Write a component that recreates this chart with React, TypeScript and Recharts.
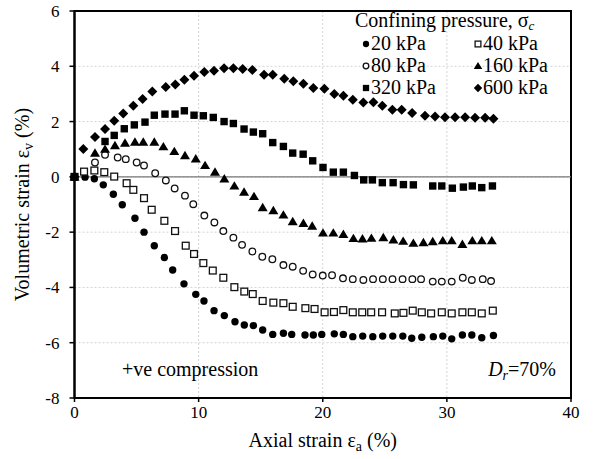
import {
  CartesianGrid,
  Legend,
  ReferenceArea,
  ReferenceLine,
  Scatter,
  ScatterChart,
  XAxis,
  YAxis,
} from 'recharts'

const SERIF = '"Liberation Serif", "Times New Roman", serif'

// [axial strain %, volumetric strain %] readings per confining pressure
const P20: [number, number][] = [
  [0, 0], [0.85, -0.01], [1.6, -0.07], [2.32, -0.29], [3.13, -0.63], [3.85, -1.01], [4.87, -1.5],
  [5.6, -2.0], [6.43, -2.49], [7.24, -2.92], [7.91, -3.37], [8.82, -3.87], [9.77, -4.25],
  [10.43, -4.49], [11.24, -4.84], [12.07, -5.02], [12.93, -5.24], [13.68, -5.36], [14.41, -5.38],
  [15.16, -5.54], [15.97, -5.7], [16.83, -5.66], [17.5, -5.7], [18.57, -5.72], [19.24, -5.72],
  [19.92, -5.7], [20.93, -5.68], [21.66, -5.7], [22.42, -5.78], [23.22, -5.76], [24.03, -5.78],
  [24.83, -5.76], [25.64, -5.76], [26.45, -5.76], [27.17, -5.84], [27.98, -5.8], [28.91, -5.78],
  [29.67, -5.76], [30.39, -5.86], [31.25, -5.72], [32.01, -5.72], [32.81, -5.82], [33.75, -5.74],
]

const P40: [number, number][] = [
  [0, 0], [0.77, 0.19], [1.6, 0.23], [2.4, 0.17], [3.2, 0.01], [4.2, -0.23], [4.74, -0.47],
  [5.6, -0.77], [6.22, -1.19], [7.24, -1.59], [8.1, -1.96], [8.96, -2.49], [9.63, -2.79],
  [10.38, -3.12], [11.14, -3.39], [11.99, -3.65], [12.88, -3.99], [13.68, -4.15], [14.36, -4.24],
  [15.16, -4.49], [16.02, -4.55], [16.83, -4.57], [17.58, -4.7], [18.6, -4.75], [19.34, -4.78],
  [20.15, -4.9], [20.9, -4.89], [21.66, -4.82], [22.42, -4.9], [23.18, -4.9], [23.9, -4.9],
  [24.78, -4.9], [25.8, -4.94], [26.5, -4.92], [27.25, -4.84], [27.98, -4.9], [28.73, -4.94],
  [29.59, -4.9], [30.39, -4.94], [31.25, -4.9], [32.01, -4.9], [32.81, -4.94], [33.7, -4.84],
]

const P80: [number, number][] = [
  [0, 0], [1.65, 0.52], [2.46, 0.8], [3.48, 0.7], [4.13, 0.64], [5.01, 0.52], [5.6, 0.41],
  [6.5, 0.13], [7.36, -0.13], [8.07, -0.42], [8.9, -0.68], [9.57, -0.99], [10.46, -1.4],
  [11.27, -1.65], [11.99, -1.96], [12.8, -2.2], [13.5, -2.46], [14.33, -2.7], [15.13, -2.89],
  [15.94, -2.98], [16.83, -3.19], [17.58, -3.25], [18.42, -3.4], [19.19, -3.53], [20.0, -3.57],
  [20.75, -3.56], [21.63, -3.67], [22.42, -3.7], [23.27, -3.73], [24.05, -3.7], [24.84, -3.7],
  [25.62, -3.7], [26.43, -3.7], [27.22, -3.7], [27.92, -3.7], [28.86, -3.79], [29.59, -3.79],
  [30.39, -3.79], [31.28, -3.65], [32.01, -3.73], [32.89, -3.7], [33.56, -3.77],
]

const P160: [number, number][] = [
  [0, 0], [1.65, 0.86], [2.46, 1.0], [3.26, 1.13], [4.07, 1.22], [4.87, 1.26], [5.54, 1.26],
  [6.43, 1.26], [7.16, 1.09], [8.04, 0.92], [8.9, 0.77], [9.77, 0.65], [10.52, 0.41],
  [11.32, 0.17], [12.07, -0.07], [12.88, -0.33], [13.66, -0.55], [14.46, -0.71], [15.16, -1.11],
  [16.02, -1.22], [16.83, -1.38], [17.58, -1.62], [18.44, -1.68], [19.15, -1.78], [20.02, -2.03],
  [20.85, -2.03], [21.66, -2.08], [22.47, -2.23], [23.2, -2.24], [23.92, -2.22], [24.88, -2.2],
  [25.69, -2.28], [26.48, -2.33], [27.3, -2.4], [28.11, -2.38], [28.86, -2.34], [29.67, -2.31],
  [30.39, -2.31], [31.25, -2.44], [32.05, -2.31], [32.81, -2.31], [33.62, -2.31],
]

const P320: [number, number][] = [
  [0, 0], [2.46, 1.28], [3.2, 1.5], [4.01, 1.74], [4.82, 1.88], [5.68, 1.98], [6.43, 2.23],
  [7.29, 2.27], [8.1, 2.27], [8.85, 2.39], [9.63, 2.23], [10.38, 2.21], [11.18, 2.15],
  [12.05, 2.0], [12.8, 1.93], [13.66, 1.73], [14.41, 1.62], [15.16, 1.56], [15.97, 1.24],
  [16.83, 1.1], [17.58, 0.86], [18.42, 0.82], [19.19, 0.58], [20.02, 0.34], [20.85, 0.17],
  [21.66, 0.17], [22.55, 0.05], [23.3, -0.11], [24.0, -0.11], [24.8, -0.21], [25.67, -0.21],
  [26.5, -0.28], [27.3, -0.29], [28.86, -0.33], [29.59, -0.33], [30.44, -0.41], [31.33, -0.37],
  [32.05, -0.33], [32.81, -0.39], [33.67, -0.33],
]

const P600: [number, number][] = [
  [0, 0], [0.71, 1.01], [1.65, 1.44], [2.46, 1.73], [3.2, 2.03], [3.93, 2.29], [4.74, 2.57],
  [5.49, 2.82], [6.27, 3.09], [7.35, 3.25], [8.12, 3.34], [8.85, 3.51], [9.63, 3.66],
  [10.46, 3.79], [11.24, 3.84], [12.05, 3.93], [12.8, 3.93], [13.55, 3.9], [14.33, 3.87],
  [15.27, 3.69], [15.97, 3.69], [16.9, 3.55], [17.63, 3.46], [18.44, 3.37], [19.24, 3.21],
  [20.13, 3.19], [20.93, 3.0], [21.66, 2.93], [22.42, 2.79], [23.27, 2.69], [24.08, 2.7],
  [24.8, 2.57], [25.61, 2.43], [26.36, 2.43], [27.2, 2.31], [28.24, 2.21], [29.05, 2.18],
  [29.85, 2.16], [30.66, 2.16], [31.47, 2.16], [32.27, 2.14], [33.08, 2.14], [33.75, 2.1],
]

const X_TICKS = [0, 10, 20, 30, 40]
const Y_TICKS = [-8, -6, -4, -2, 0, 2, 4, 6]

type Kind = 'dot' | 'openSquare' | 'ring' | 'triangle' | 'square' | 'diamond'

const SERIES: { name: string; kind: Kind; data: [number, number][] }[] = [
  { name: '20 kPa', kind: 'dot', data: P20 },
  { name: '40 kPa', kind: 'openSquare', data: P40 },
  { name: '80 kPa', kind: 'ring', data: P80 },
  { name: '160 kPa', kind: 'triangle', data: P160 },
  { name: '320 kPa', kind: 'square', data: P320 },
  { name: '600 kPa', kind: 'diamond', data: P600 },
]

const toPoints = (rows: [number, number][]) => rows.map(([x, y]) => ({ x, y }))

function Marker({ kind, cx, cy, s = 1 }: { kind: Kind; cx: number; cy: number; s?: number }) {
  if (cx == null || cy == null) return null
  switch (kind) {
    case 'dot':
      return <circle cx={cx} cy={cy} r={3.7 * s} fill="#000" />
    case 'ring':
      return <circle cx={cx} cy={cy} r={3.3 * s} fill="#fff" stroke="#111" strokeWidth={1.3} />
    case 'square':
      return <rect x={cx - 3.7 * s} y={cy - 3.7 * s} width={7.4 * s} height={7.4 * s} fill="#000" />
    case 'openSquare':
      return (
        <rect x={cx - 3.4 * s} y={cy - 3.4 * s} width={6.8 * s} height={6.8 * s} fill="#fff" stroke="#111" strokeWidth={1.3} />
      )
    case 'triangle':
      return (
        <polygon
          points={`${cx},${cy - 4.8 * s} ${cx + 5 * s},${cy + 3.6 * s} ${cx - 5 * s},${cy + 3.6 * s}`}
          fill="#000"
        />
      )
    case 'diamond':
      return (
        <polygon
          points={`${cx},${cy - 5 * s} ${cx + 5 * s},${cy} ${cx},${cy + 5 * s} ${cx - 5 * s},${cy}`}
          fill="#000"
        />
      )
  }
}

function LegendBox() {
  const rows = [0, 1, 2]
  return (
    <svg width={240} height={100} style={{ display: 'block', overflow: 'visible' }}>
      <text x={10} y={27} fontFamily={SERIF} fontSize={20} fill="#000">
        Confining pressure, σ
        <tspan dy={3} fontSize={13} fontStyle="italic">c</tspan>
      </text>
      {rows.map((r) =>
        [0, 1].map((c) => {
          const s = SERIES[r * 2 + c]
          const mx = c === 0 ? 21 : 133
          const base = 50 + r * 22
          return (
            <g key={s.name}>
              <Marker kind={s.kind} cx={mx} cy={base - 6} s={0.85} />
              <text x={mx + 5} y={base} fontFamily={SERIF} fontSize={20} fill="#000">
                {s.name}
              </text>
            </g>
          )
        })
      )}
    </svg>
  )
}

const XTitle = () => (
  <text x={322.8} y={447} textAnchor="middle" fontFamily={SERIF} fontSize={20} fill="#000">
    Axial strain ε<tspan dy={4} fontSize={14}>a</tspan>
    <tspan dy={-4}> (%)</tspan>
  </text>
)

const YTitle = () => (
  <text
    transform="translate(29, 204.6) rotate(-90)"
    textAnchor="middle"
    fontFamily={SERIF}
    fontSize={20}
    fill="#000"
  >
    Volumetric strain ε<tspan dy={4} fontSize={14}>v</tspan>
    <tspan dy={-4}> (%)</tspan>
  </text>
)

export default function App() {
  const tick = { fill: '#000', fontSize: 17, fontFamily: SERIF }
  return (
    <div style={{ position: 'fixed', top: 0, left: 0, width: 593, height: 459, background: '#fff' }}>
      <ScatterChart width={593} height={459} margin={{ top: 11, right: 22, bottom: 0, left: 0 }}>
        <CartesianGrid stroke="#d4d4d4" strokeDasharray="2 2" />
        <XAxis
          type="number"
          dataKey="x"
          domain={[0, 40]}
          ticks={X_TICKS}
          height={61}
          tick={tick}
          tickSize={4}
          tickMargin={4}
          axisLine={{ stroke: '#000', strokeWidth: 2 }}
          tickLine={{ stroke: '#000', strokeWidth: 1.5 }}
          label={{ content: () => <XTitle /> }}
        />
        <YAxis
          type="number"
          dataKey="y"
          domain={[-8, 6]}
          ticks={Y_TICKS}
          width={74.5}
          tick={tick}
          tickSize={5}
          tickMargin={10}
          axisLine={{ stroke: '#000', strokeWidth: 2 }}
          tickLine={{ stroke: '#000', strokeWidth: 1.5 }}
          label={{ content: () => <YTitle /> }}
        />
        <ReferenceArea x1={0} x2={40} y1={-8} y2={6} fill="none" stroke="#000" strokeWidth={2} />
        <ReferenceLine y={0} stroke="#777" strokeWidth={1.2} />
        {SERIES.map((s) => (
          <Scatter
            key={s.name}
            name={s.name}
            data={toPoints(s.data)}
            isAnimationActive={false}
            shape={(p: any) => <Marker kind={s.kind} cx={p.cx} cy={p.cy} />}
          />
        ))}
        <Legend
          layout="horizontal"
          verticalAlign="middle"
          align="center"
          wrapperStyle={{ left: 345, top: 0, width: 240, height: 100 }}
          content={() => <LegendBox />}
        />
      </ScatterChart>
      <svg
        width={593}
        height={459}
        style={{ position: 'absolute', top: 0, left: 0, pointerEvents: 'none' }}
      >
        <text x={122} y={376} fontFamily={SERIF} fontSize={20} fill="#000">
          +ve compression
        </text>
        <text x={556} y={376} textAnchor="end" fontFamily={SERIF} fontSize={20} fill="#000">
          <tspan fontStyle="italic">D</tspan>
          <tspan dy={4} fontSize={14} fontStyle="italic">r</tspan>
          <tspan dy={-4}>=70%</tspan>
        </text>
      </svg>
    </div>
  )
}
